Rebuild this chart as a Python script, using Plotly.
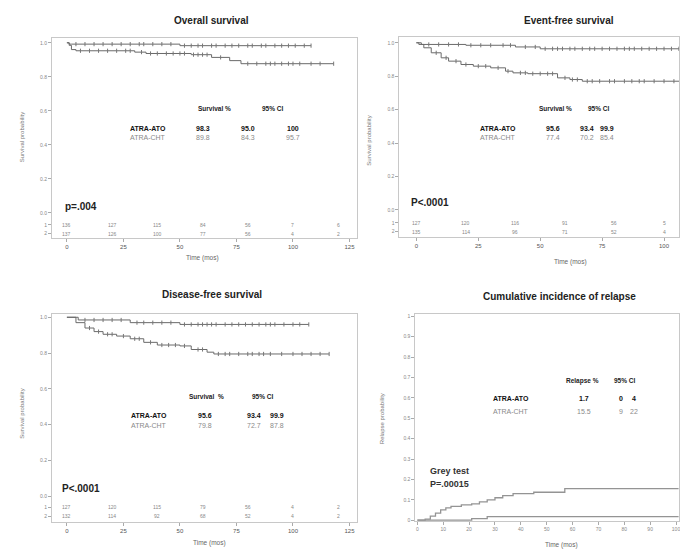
import plotly.graph_objects as go

W, H = 680, 554
FONT = "Liberation Sans, Arial, sans-serif"
CURVE = "#6a6a6a"
GREY_TXT = "#8a8a8a"
FRAME = "#c8c8c8"

# ---------------- data ----------------
# Overall survival
os_ato_t = [0, 1, 2, 50, 108]
os_ato_s = [1.0, 0.992, 0.992, 0.983, 0.983]
os_ato_cens = [4, 8, 12, 16, 20, 24, 28, 32, 34, 38, 42, 46, 52, 55, 58, 60, 64, 66, 70, 73, 76, 80, 82, 86, 88, 92, 95, 98, 101, 105, 108]
os_cht_t = [0, 1, 2, 4, 30, 35, 55, 64, 72, 77, 118]
os_cht_s = [1.0, 0.985, 0.96, 0.953, 0.945, 0.937, 0.93, 0.914, 0.895, 0.877, 0.877]
os_cht_cens = [6, 10, 14, 18, 22, 26, 28, 33, 37, 40, 44, 47, 50, 52, 56, 58, 60, 62, 68, 80, 84, 88, 90, 92, 95, 98, 100, 103, 108, 112, 118]
os_risk_t = [0, 20, 40, 60, 80, 100, 120]
os_risk_ato = ["136", "127", "115", "84", "56", "7", "6"]
os_risk_cht = ["137", "126", "100", "77", "56", "4", "2"]
os_table = [["ATRA-ATO", "98.3", "95.0", "100"], ["ATRA-CHT", "89.8", "84.3", "95.7"]]

# Event-free survival
efs_ato_t = [0, 2, 20, 40, 50, 125]
efs_ato_s = [1.0, 0.99, 0.985, 0.975, 0.964, 0.956]
efs_ato_cens = [5, 9, 13, 17, 22, 26, 30, 35, 38, 44, 48, 52, 55, 57, 59, 62, 64, 67, 70, 72, 75, 78, 81, 84, 86, 88, 91, 94, 97, 100, 103, 106]
efs_cht_t = [0, 1, 3, 6, 10, 13, 18, 23, 30, 36, 39, 45, 57, 62, 67, 125]
efs_cht_s = [1.0, 0.99, 0.97, 0.94, 0.91, 0.89, 0.87, 0.86, 0.85, 0.83, 0.82, 0.815, 0.79, 0.78, 0.77, 0.77]
efs_cht_cens = [8, 12, 16, 20, 25, 28, 33, 37, 42, 44, 47, 50, 53, 55, 60, 63, 65, 69, 71, 74, 78, 80, 84, 87, 90, 92, 96, 100, 104]
efs_risk_t = [0, 20, 40, 60, 80, 100]
efs_risk_ato = ["127", "120", "116", "91", "56", "5"]
efs_risk_cht = ["135", "114", "96", "71", "52", "4"]
efs_table = [["ATRA-ATO", "95.6", "93.4", "99.9"], ["ATRA-CHT", "77.4", "70.2", "85.4"]]

# Disease-free survival
dfs_ato_t = [0, 5, 28, 50, 107]
dfs_ato_s = [1.0, 0.985, 0.97, 0.96, 0.96]
dfs_ato_cens = [8, 12, 16, 20, 24, 31, 34, 38, 42, 46, 52, 55, 58, 60, 62, 64, 66, 70, 73, 76, 79, 82, 85, 88, 90, 92, 96, 100, 103, 107]
dfs_cht_t = [0, 4, 8, 12, 16, 22, 28, 34, 40, 50, 55, 62, 65, 116]
dfs_cht_s = [1.0, 0.97, 0.94, 0.92, 0.905, 0.895, 0.88, 0.86, 0.845, 0.84, 0.82, 0.805, 0.795, 0.795]
dfs_cht_cens = [10, 14, 18, 20, 25, 30, 32, 37, 42, 45, 48, 52, 58, 60, 67, 70, 72, 76, 80, 82, 85, 87, 90, 95, 100, 104, 108, 112, 116]
dfs_risk_t = [0, 20, 40, 60, 80, 100, 120]
dfs_risk_ato = ["127", "120", "115", "79", "56", "4", "2"]
dfs_risk_cht = ["132", "114", "92", "68", "52", "4", "2"]
dfs_table = [["ATRA-ATO", "95.6", "93.4", "99.9"], ["ATRA-CHT", "79.8", "72.7", "87.8"]]

# Cumulative incidence of relapse
cir_cht_t = [0, 3, 5, 7, 9, 11, 13, 17, 21, 24, 27, 30, 33, 37, 45, 57, 101]
cir_cht_c = [0, 0.005, 0.02, 0.035, 0.05, 0.06, 0.068, 0.075, 0.08, 0.09, 0.1, 0.11, 0.12, 0.13, 0.137, 0.155, 0.155]
cir_ato_t = [0, 21, 27, 101]
cir_ato_c = [0, 0.008, 0.017, 0.017]
cir_table = [["ATRA-ATO", "1.7", "0", "4"], ["ATRA-CHT", "15.5", "9", "22"]]


# ---------------- helpers ----------------
def px(x):
    return x / W


def py(y):
    return 1 - y / H


def lin_range(p_a, p_b, v1, p1, v2, p2):
    k = (v2 - v1) / (p2 - p1)
    return [v1 + (p_a - p1) * k, v1 + (p_b - p1) * k]


def step_at(ts, ss, t):
    val = ss[0]
    for ti, si in zip(ts, ss):
        if ti <= t:
            val = si
    return val


fig = go.Figure()
annotations = []


def ann(text, x, y, size=7, color="#222", bold=False, xanchor="center", angle=0):
    annotations.append(dict(
        text=("<b>%s</b>" % text) if bold else text,
        x=px(x), y=py(y), xref="paper", yref="paper", showarrow=False,
        xanchor=xanchor, yanchor="middle", textangle=angle,
        font=dict(family=FONT, size=size, color=color)))


def add_km(ts, ss, cens, xa, ya):
    fig.add_trace(go.Scatter(x=ts, y=ss, mode="lines", line=dict(shape="hv", color=CURVE, width=1),
                             xaxis=xa, yaxis=ya, showlegend=False, hoverinfo="skip"))
    fig.add_trace(go.Scatter(x=cens, y=[step_at(ts, ss, c) for c in cens], mode="markers",
                             marker=dict(symbol="line-ns", size=3, line=dict(width=1, color="#777")),
                             xaxis=xa, yaxis=ya, showlegend=False, hoverinfo="skip"))


def risk_rows(times, r1, r2, y1, y2, xa, ya):
    for t, a, b in zip(times, r1, r2):
        for v, yy in ((a, y1), (b, y2)):
            annotations.append(dict(text=v, x=t, y=yy, xref=xa.replace("xaxis", "x"), yref=ya.replace("yaxis", "y"),
                                    showarrow=False, font=dict(family=FONT, size=5, color="#888")))


def axis_common():
    return dict(showline=True, linecolor=FRAME, linewidth=1, mirror=True, showgrid=False, zeroline=False,
                ticks="outside", ticklen=3, tickcolor="#aaa", ticklabeloverflow="allow",
                tickfont=dict(family=FONT, size=5, color="#888"))


# ---- panel 1: Overall survival ----
p1 = dict(l=52, r=358, t=37, b=238)
xr1 = lin_range(p1["l"], p1["r"], 0, 67, 125, 350)
yr1 = lin_range(p1["b"], p1["t"], 0, 213, 1, 42)
r1a, r1b = lin_range(225, 234, 0, 213, 1, 42)
add_km(os_ato_t, os_ato_s, os_ato_cens, "x", "y")
add_km(os_cht_t, os_cht_s, os_cht_cens, "x", "y")
risk_rows(os_risk_t, os_risk_ato, os_risk_cht, r1a, r1b, "xaxis", "yaxis")

# ---- panel 2: Event-free survival ----
p2 = dict(l=400, r=680, t=36, b=237)
xr2 = lin_range(p2["l"], p2["r"], 0, 417, 100, 665)
yr2 = lin_range(p2["b"], p2["t"], 0, 210, 1, 42)
r2a, r2b = lin_range(223, 232, 0, 210, 1, 42)
add_km(efs_ato_t, efs_ato_s, efs_ato_cens, "x2", "y2")
add_km(efs_cht_t, efs_cht_s, efs_cht_cens, "x2", "y2")
risk_rows(efs_risk_t, efs_risk_ato, efs_risk_cht, r2a, r2b, "xaxis2", "yaxis2")

# ---- panel 3: Disease-free survival ----
p3 = dict(l=52, r=358, t=315, b=524)
xr3 = lin_range(p3["l"], p3["r"], 0, 67, 125, 350)
yr3 = lin_range(p3["b"], p3["t"], 0, 498, 1, 318)
r3a, r3b = lin_range(509, 518, 0, 498, 1, 318)
add_km(dfs_ato_t, dfs_ato_s, dfs_ato_cens, "x3", "y3")
add_km(dfs_cht_t, dfs_cht_s, dfs_cht_cens, "x3", "y3")
risk_rows(dfs_risk_t, dfs_risk_ato, dfs_risk_cht, r3a, r3b, "xaxis3", "yaxis3")

# ---- panel 4: Cumulative incidence of relapse ----
p4 = dict(l=416, r=680, t=315, b=523)
xr4 = lin_range(p4["l"], p4["r"], 0, 418, 100, 677)
yr4 = lin_range(p4["b"], p4["t"], 0, 522, 1, 317)
for ts, cs in ((cir_cht_t, cir_cht_c), (cir_ato_t, cir_ato_c)):
    fig.add_trace(go.Scatter(x=ts, y=cs, mode="lines", line=dict(shape="hv", color="#949494", width=1.3),
                             xaxis="x4", yaxis="y4", showlegend=False, hoverinfo="skip"))


def surv_y(rng, ra, rb):
    d = axis_common()
    d.update(range=rng, tickvals=[rb, ra, 0, 0.2, 0.4, 0.6, 0.8, 1.0],
             ticktext=["2", "1", "0.0", "0.2", "0.4", "0.6", "0.8", "1.0"])
    return d


def surv_x(rng, dom, anchor):
    d = axis_common()
    d.update(range=rng, domain=dom, anchor=anchor, tickvals=[0, 25, 50, 75, 100, 125],
             tickfont=dict(family=FONT, size=6, color="#555"))
    return d


layout = dict(
    width=W, height=H, margin=dict(l=0, r=0, t=0, b=0),
    paper_bgcolor="white", plot_bgcolor="white",
    xaxis=surv_x(xr1, [px(p1["l"]), px(p1["r"])], "y"),
    yaxis=dict(surv_y(yr1, r1a, r1b), domain=[py(p1["b"]), py(p1["t"])], anchor="x"),
    xaxis2=surv_x(xr2, [px(p2["l"]), px(p2["r"])], "y2"),
    yaxis2=dict(surv_y(yr2, r2a, r2b), domain=[py(p2["b"]), py(p2["t"])], anchor="x2"),
    xaxis3=surv_x(xr3, [px(p3["l"]), px(p3["r"])], "y3"),
    yaxis3=dict(surv_y(yr3, r3a, r3b), domain=[py(p3["b"]), py(p3["t"])], anchor="x3"),
)
x4 = axis_common()
x4.update(range=xr4, domain=[px(p4["l"]), px(p4["r"])], anchor="y4", dtick=10, tick0=0)
y4 = axis_common()
y4.update(range=yr4, domain=[py(p4["b"]), py(p4["t"])], anchor="x4", dtick=0.1, tick0=0)
layout["xaxis4"] = x4
layout["yaxis4"] = y4

# ---- titles & labels ----
ann("Overall survival", 212, 20, size=10, bold=True)
ann("Event-free survival", 570, 20, size=10, bold=True)
ann("Disease-free survival", 212, 295, size=10, bold=True)
ann("Cumulative incidence of relapse", 560, 297, size=10, bold=True)

ann("Survival probability", 22, 137, size=6, color="#777", angle=-90)
ann("Survival probability", 370, 140, size=6, color="#777", angle=-90)
ann("Survival probability", 22, 415, size=6, color="#777", angle=-90)
ann("Relapse probability", 382, 420, size=6, color="#777", angle=-90)

ann("Time (mos)", 203, 258, size=6.5, color="#666")
ann("Time (mos)", 571, 262, size=6.5, color="#666")
ann("Time (mos)", 210, 545, size=6.5, color="#666")
ann("Time (mos)", 562, 547, size=6.5, color="#666")

ann("p=.004", 63, 207, size=10, bold=True, xanchor="left")
ann("P<.0001", 410, 203, size=10, bold=True, xanchor="left")
ann("P<.0001", 60, 490, size=10, bold=True, xanchor="left")
ann("Grey test", 429, 473, size=9, bold=True, xanchor="left", color="#333")
ann("P=.00015", 429, 486, size=9, bold=True, xanchor="left", color="#333")


def table(rows, head1, hx1, hx2, hy, name_x, num_xs, row_ys):
    ann(head1, hx1, hy, size=6.5, bold=True)
    ann("95% CI", hx2, hy, size=6.5, bold=True)
    for i, row in enumerate(rows):
        col = "#111" if i == 0 else GREY_TXT
        b = i == 0
        ann(row[0], name_x, row_ys[i], size=7, bold=b, color=col)
        for v, xx in zip(row[1:], num_xs):
            ann(v, xx, row_ys[i], size=7, bold=b, color=col)


table(os_table, "Survival %", 215, 273, 108, 148, [203, 248, 293], [128, 137])
table(efs_table, "Survival %", 556, 600, 108, 499, [554, 588, 608], [128, 137])
table(dfs_table, "Survival  %", 207, 263, 398, 149, [205, 254, 277], [417, 427])
table(cir_table, "Relapse %", 583, 626, 382, 512, [585, 622, 635], [400, 413])

layout["annotations"] = annotations
fig.update_layout(**layout)
fig.write_html("out.html")
